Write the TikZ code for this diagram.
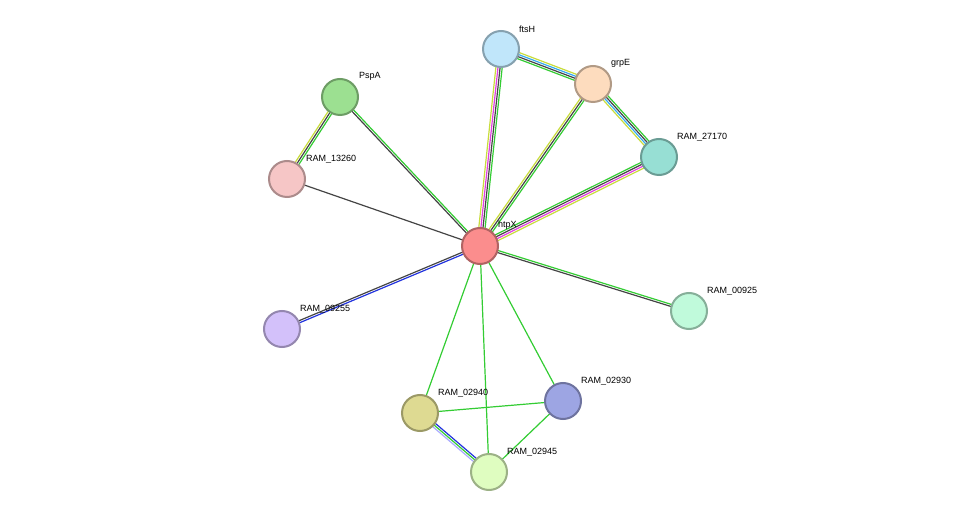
\documentclass[tikz,border=0pt]{standalone}
\usepackage{fontspec}
\setmainfont{Liberation Sans}
\usetikzlibrary{calc,backgrounds}
\definecolor{egr}{HTML}{33CC33}
\definecolor{ebk}{HTML}{444444}
\definecolor{emg}{HTML}{E040E0}
\definecolor{eyl}{HTML}{C8DC3C}
\definecolor{ebl}{HTML}{33AAEE}
\definecolor{edb}{HTML}{2233DD}
\definecolor{elv}{HTML}{AAAAFF}
\newcommand\mlink[3]{%
  \foreach \c [count=\i] in {#3} {\xdef\nlk{\i}}%
  \foreach \c [count=\i] in {#3} {%
    \pgfmathsetmacro\off{(\i-(\nlk+1)/2)*2.1}%
    \draw[line width=1.2pt,draw=\c] ($(#1)!\off pt!90:(#2)$) -- ($(#2)!\off pt!-90:(#1)$);}%
}
\tikzset{prot/.style={circle,minimum size=36pt,inner sep=0pt,line width=2pt,draw=#1!70!black,fill=#1},
  lab/.style={anchor=south west,inner sep=0pt,font=\fontsize{9pt}{9pt}\selectfont}}
\begin{document}
\begin{tikzpicture}[x=1pt,y=-1pt]
\useasboundingbox (0,0) rectangle (975,518);
\definecolor{nftsH}{HTML}{C0E6FA}
\definecolor{ngrpE}{HTML}{FDDCBE}
\definecolor{nPspA}{HTML}{9CE091}
\definecolor{n27170}{HTML}{97DFD4}
\definecolor{n13260}{HTML}{F6C6C6}
\definecolor{nhtpX}{HTML}{FB8D8D}
\definecolor{n00925}{HTML}{C0FADB}
\definecolor{n09255}{HTML}{D3C1FA}
\definecolor{n02940}{HTML}{DEDA92}
\definecolor{n02930}{HTML}{9DA5E3}
\definecolor{n02945}{HTML}{DFFDC0}
\node[prot=nftsH] (ftsH) at (501,49) {};
\node[prot=ngrpE] (grpE) at (593,84) {};
\node[prot=nPspA] (PspA) at (340,97) {};
\node[prot=n27170] (r27170) at (659,157) {};
\node[prot=n13260] (r13260) at (287,179) {};
\node[prot=nhtpX] (htpX) at (480,246) {};
\node[prot=n00925] (r00925) at (689,311) {};
\node[prot=n09255] (r09255) at (282,329) {};
\node[prot=n02940] (r02940) at (420,413) {};
\node[prot=n02930] (r02930) at (563,401) {};
\node[prot=n02945] (r02945) at (489,472) {};
\node[lab] (lftsH) at (519,33) {ftsH};
\node[lab] (lgrpE) at (611,68) {grpE};
\node[lab] (lPspA) at (359,81) {PspA};
\node[lab] (l27170) at (677,141) {RAM\_27170};
\node[lab] (l13260) at (306,163) {RAM\_13260};
\node[lab] (lhtpX) at (498,230) {htpX};
\node[lab] (l00925) at (707,295) {RAM\_00925};
\node[lab] (l09255) at (300,313) {RAM\_09255};
\node[lab] (l02940) at (438,397) {RAM\_02940};
\node[lab] (l02930) at (581,385) {RAM\_02930};
\node[lab] (l02945) at (507,456) {RAM\_02945};
\begin{scope}[on background layer]
\mlink{htpX}{ftsH}{egr,ebk,emg,eyl}
\mlink{ftsH}{grpE}{egr,ebk,ebl,eyl}
\mlink{grpE}{r27170}{eyl,ebl,ebk,egr}
\mlink{htpX}{grpE}{egr,ebk,eyl}
\mlink{htpX}{r27170}{eyl,emg,ebk,egr}
\mlink{PspA}{r13260}{eyl,ebk,egr}
\mlink{htpX}{PspA}{egr,ebk}
\mlink{htpX}{r13260}{ebk}
\mlink{htpX}{r00925}{ebk,egr}
\mlink{htpX}{r09255}{ebk,edb}
\mlink{htpX}{r02940}{egr}
\mlink{htpX}{r02945}{egr}
\mlink{htpX}{r02930}{egr}
\mlink{r02940}{r02930}{egr}
\mlink{r02930}{r02945}{egr}
\mlink{r02940}{r02945}{elv,egr,edb}
\end{scope}
\end{tikzpicture}
\end{document}
